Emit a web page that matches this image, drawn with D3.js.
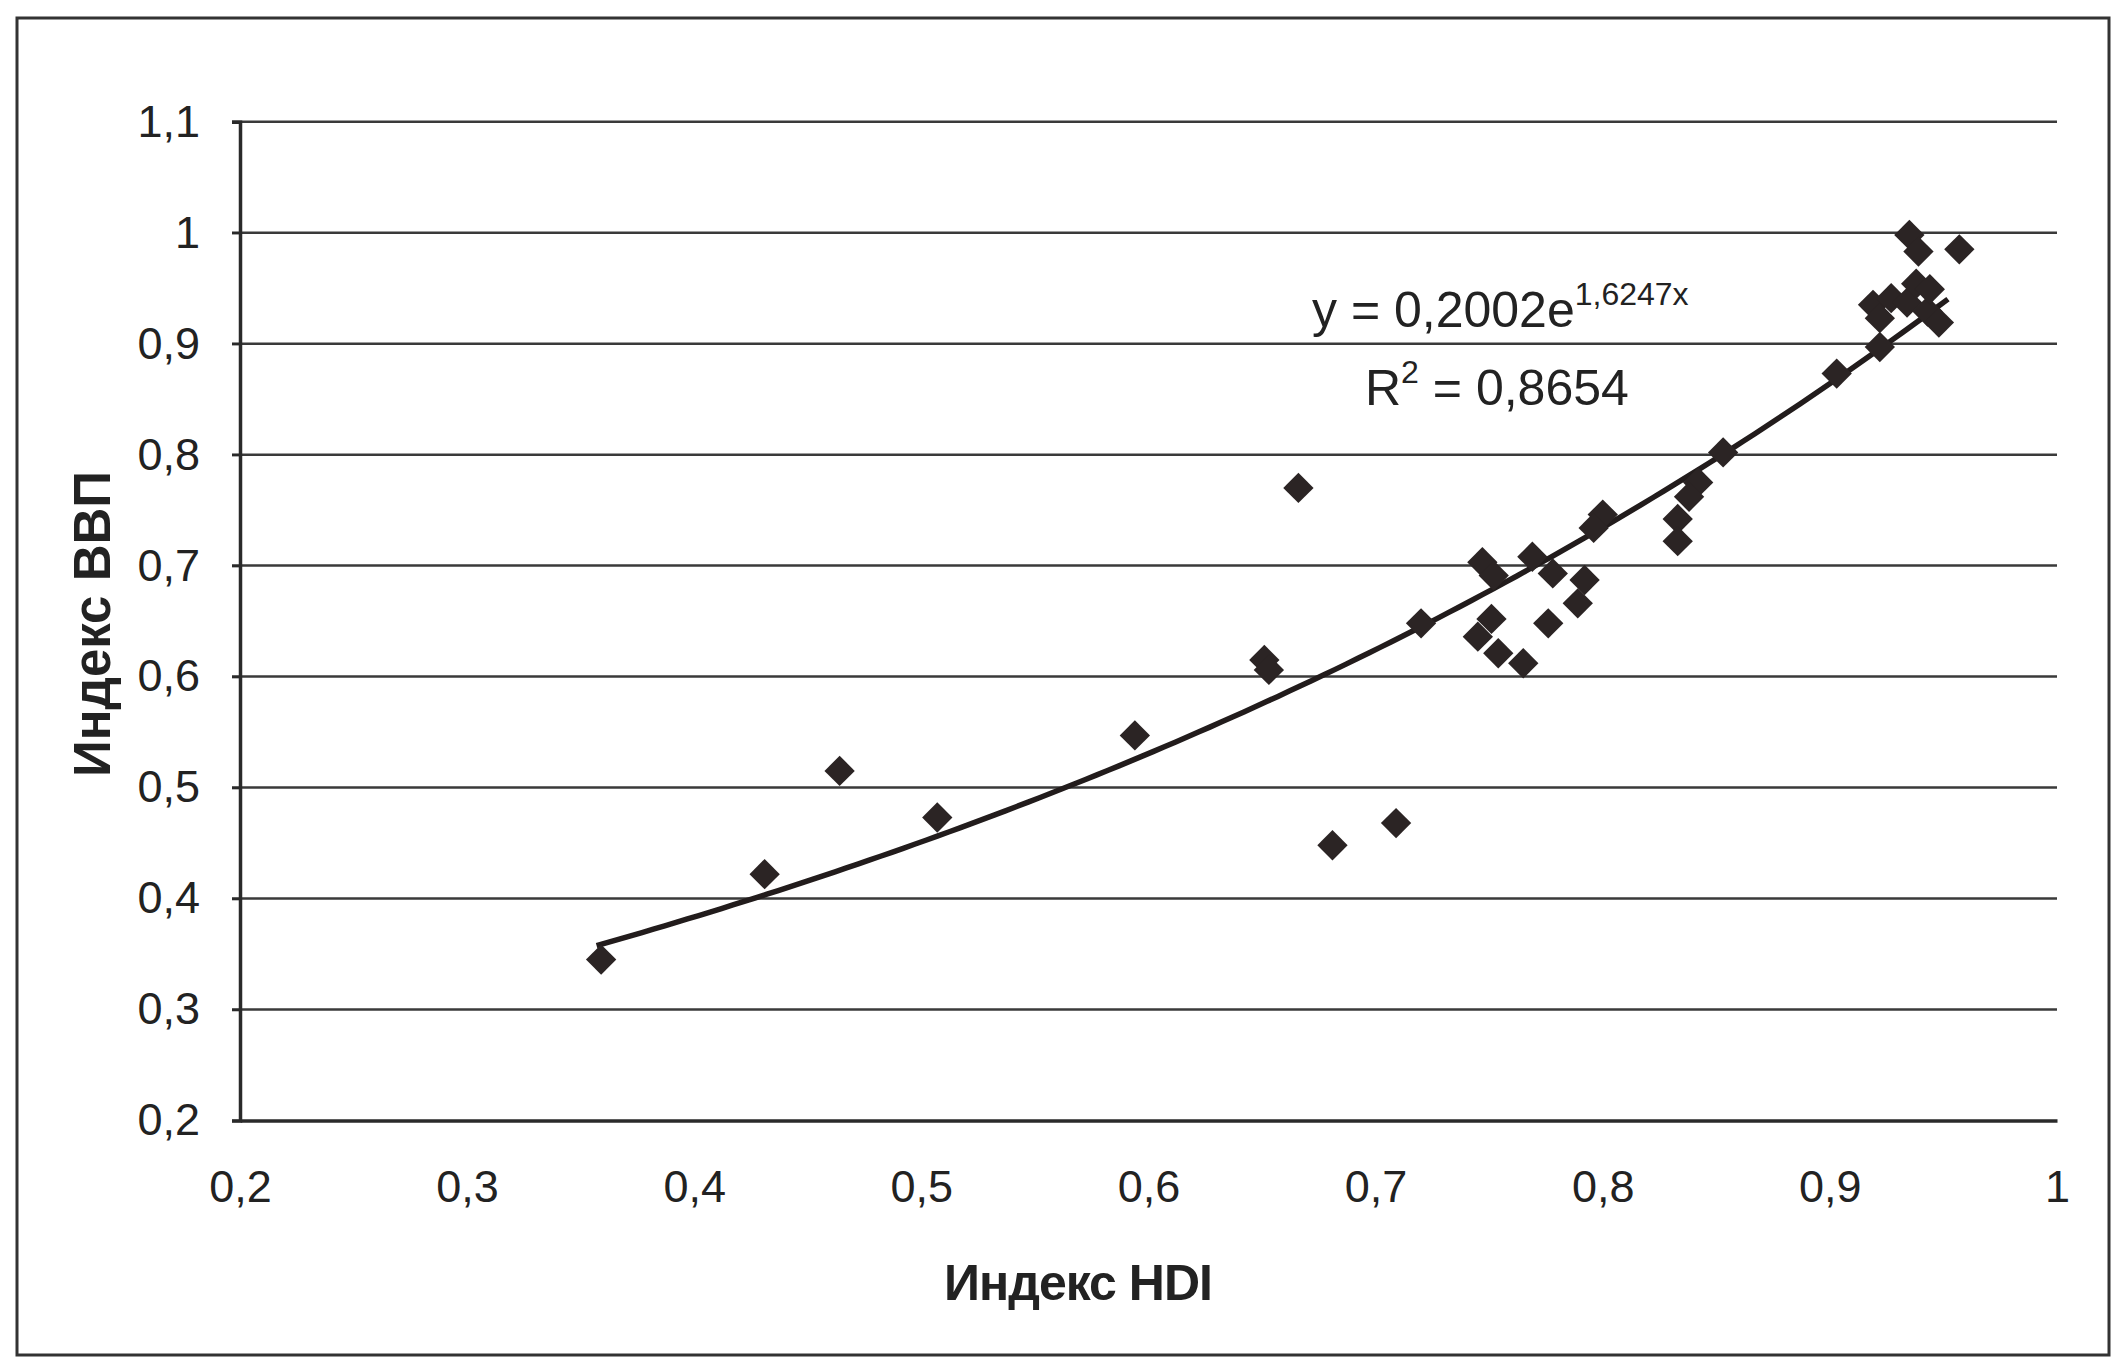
<!DOCTYPE html>
<html>
<head>
<meta charset="utf-8">
<script src="https://cdn.jsdelivr.net/npm/d3@7"></script>
<style>
  body { margin: 0; background: #fff; }
  text { font-family: "Liberation Sans", Arial, sans-serif; fill: #222; }
</style>
</head>
<body>
<div id="my_dataviz"></div>
<script>
// Индекс HDI (x) vs Индекс ВВП (y)
const hdi = [0.359, 0.431, 0.464, 0.507, 0.594, 0.651, 0.653, 0.666, 0.681, 0.709,
  0.720, 0.747, 0.752, 0.769, 0.778, 0.792, 0.789, 0.776, 0.751, 0.745,
  0.754, 0.765, 0.800, 0.796, 0.833, 0.833, 0.842, 0.838, 0.853, 0.903,
  0.922, 0.919, 0.927, 0.934, 0.922, 0.943, 0.948, 0.938, 0.944, 0.935,
  0.939, 0.957];
const gdp = [0.345, 0.422, 0.515, 0.473, 0.547, 0.615, 0.606, 0.770, 0.448, 0.468,
  0.648, 0.703, 0.691, 0.708, 0.693, 0.687, 0.666, 0.648, 0.652, 0.636,
  0.621, 0.612, 0.746, 0.734, 0.742, 0.722, 0.775, 0.762, 0.802, 0.873,
  0.897, 0.935, 0.941, 0.937, 0.923, 0.929, 0.919, 0.954, 0.949, 0.998,
  0.983, 0.985];

const xTicks = [0.2, 0.3, 0.4, 0.5, 0.6, 0.7, 0.8, 0.9, 1];
const yTicks = [0.2, 0.3, 0.4, 0.5, 0.6, 0.7, 0.8, 0.9, 1, 1.1];

// exponential trendline, as printed on the chart
const trendA = 0.2002, trendB = 1.6247;
const trendRange = [0.357, 0.955];

const W = 2122, H = 1360;
const margin = {top: 121.7, right: 65, bottom: 239.5, left: 240},
    width = W - margin.left - margin.right,
    height = H - margin.top - margin.bottom;

const fmt = v => String(v).replace(".", ",");

const svg = d3.select("#my_dataviz").append("svg")
    .attr("width", W).attr("height", H);

// outer frame
svg.append("rect")
    .attr("x", 17).attr("y", 18).attr("width", 2092).attr("height", 1337)
    .attr("fill", "none").attr("stroke", "#333").attr("stroke-width", 3);

const g = svg.append("g").attr("transform", `translate(${margin.left},${margin.top})`);

const x = d3.scaleLinear().domain([0.2, 1]).range([0, width]);
const y = d3.scaleLinear().domain([0.2, 1.1]).range([height, 0]);

// horizontal gridlines
g.append("g")
  .selectAll("line")
  .data(yTicks.slice(1))
  .join("line")
    .attr("x1", -8).attr("x2", width)
    .attr("y1", d => y(d)).attr("y2", d => y(d))
    .attr("stroke", "#3a3a3a").attr("stroke-width", 2.5);

// axes
const yAxis = d3.axisLeft(y).tickValues(yTicks).tickFormat(fmt).tickSize(8).tickPadding(32);
const gy = g.append("g").call(yAxis);
gy.select(".domain").attr("stroke", "#2a2a2a").attr("stroke-width", 3.5);
gy.selectAll(".tick line").attr("stroke", "#2a2a2a").attr("stroke-width", 2.5);
gy.selectAll(".tick text").attr("font-size", 45).attr("fill", "#222")
  .attr("font-family", "Liberation Sans, Arial, sans-serif");

const xAxis = d3.axisBottom(x).tickValues(xTicks).tickFormat(fmt).tickSize(0).tickPadding(50);
const gx = g.append("g").attr("transform", `translate(0,${height})`).call(xAxis);
gx.select(".domain").attr("stroke", "#2a2a2a").attr("stroke-width", 3.5);
gx.selectAll(".tick text").attr("font-size", 45).attr("fill", "#222")
  .attr("font-family", "Liberation Sans, Arial, sans-serif");

// trendline
const trendX = d3.range(trendRange[0], trendRange[1] + 0.0001, 0.005);
g.append("path")
    .datum(trendX)
    .attr("fill", "none")
    .attr("stroke", "#221c1c")
    .attr("stroke-width", 5.5)
    .attr("d", d3.line()
      .x(d => x(d))
      .y(d => y(trendA * Math.exp(trendB * d))));

// diamond markers
const diamond = d3.symbol().type(d3.symbolSquare).size(460);
g.append("g")
  .selectAll("path")
  .data(hdi.map((v, i) => [v, gdp[i]]))
  .join("path")
    .attr("d", diamond)
    .attr("transform", d => `translate(${x(d[0])},${y(d[1])}) rotate(45)`)
    .attr("fill", "#2b2424");

// equation labels
const eq = svg.append("text").attr("x", 1312).attr("y", 327).attr("font-size", 50);
eq.append("tspan").text("y = 0,2002e");
eq.append("tspan").attr("font-size", 32).attr("dy", -22).text("1,6247x");

const r2 = svg.append("text").attr("x", 1365).attr("y", 405).attr("font-size", 50);
r2.append("tspan").text("R");
r2.append("tspan").attr("font-size", 32).attr("dy", -22).text("2");
r2.append("tspan").attr("dy", 22).text(" = 0,8654");

// axis titles
svg.append("text")
    .attr("x", 1078).attr("y", 1300)
    .attr("text-anchor", "middle")
    .attr("font-size", 50).attr("font-weight", "bold")
    .attr("letter-spacing", -1)
    .text("Индекс HDI");

svg.append("text")
    .attr("transform", "translate(110,624) rotate(-90)")
    .attr("text-anchor", "middle")
    .attr("font-size", 51).attr("font-weight", "bold")
    .text("Индекс  ВВП");
</script>
</body>
</html>
